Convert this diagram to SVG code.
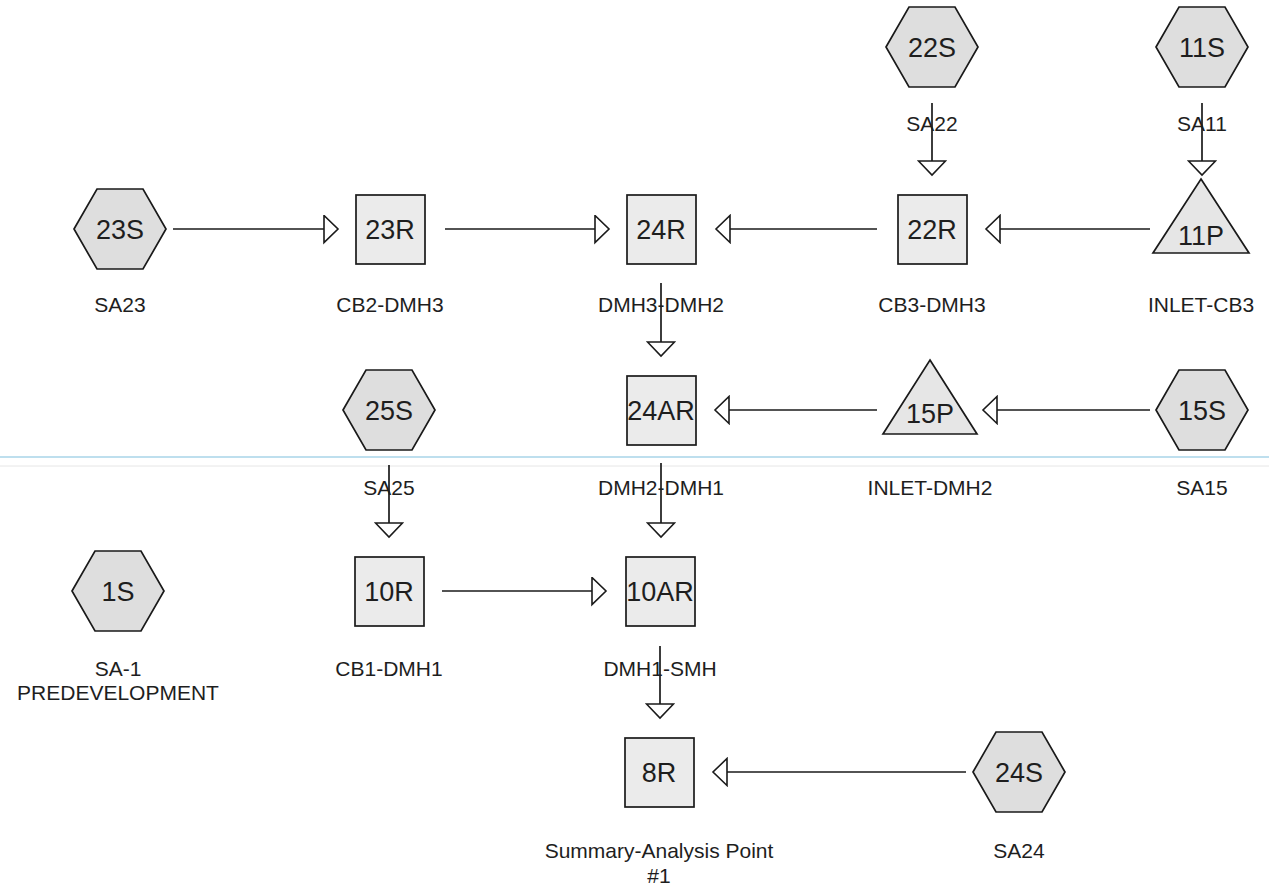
<svg xmlns="http://www.w3.org/2000/svg" width="1269" height="888" viewBox="0 0 1269 888">
<style>
.hex{fill:#dedede;stroke:#1a1a1a;stroke-width:1.7}
.box{fill:#ebebeb;stroke:#1a1a1a;stroke-width:1.7}
.tri{fill:#e6e6e6;stroke:#1a1a1a;stroke-width:1.7}
.nt{font-family:"Liberation Sans",Arial,sans-serif;font-size:27px;fill:#1e1e1e;text-anchor:middle}
.lb{font-family:"Liberation Sans",Arial,sans-serif;font-size:21px;fill:#1e1e1e;text-anchor:middle}
.cn line{stroke:#1a1a1a;stroke-width:1.7;marker-end:url(#ah)}
</style>
<defs>
<marker id="ah" markerUnits="userSpaceOnUse" markerWidth="18" markerHeight="30" refX="1" refY="14.5" orient="auto">
<path d="M1,1 L15,14.5 L1,28 Z" fill="#fff" stroke="#1a1a1a" stroke-width="1.6"/>
</marker>
<path id="hexp" d="M-46,0 L-23,-40 L23,-40 L46,0 L23,40 L-23,40 Z"/>
</defs>
<rect width="1269" height="888" fill="#fff"/>
<line x1="0" y1="457" x2="1269" y2="457" stroke="#a9d4e8" stroke-width="1.5"/>
<line x1="0" y1="466" x2="1269" y2="466" stroke="#e6e6e6" stroke-width="1"/>

<g id="connectors" class="cn">
<line x1="932" y1="103" x2="932" y2="161"/>
<line x1="1202" y1="103" x2="1202" y2="161"/>
<line x1="661" y1="283" x2="661" y2="342"/>
<line x1="389" y1="465" x2="389" y2="523"/>
<line x1="661" y1="463" x2="661" y2="523"/>
<line x1="660" y1="646" x2="660" y2="704"/>
<line x1="173" y1="229" x2="324" y2="229"/>
<line x1="445" y1="229" x2="595" y2="229"/>
<line x1="877" y1="229" x2="730" y2="229"/>
<line x1="1150" y1="229" x2="1000" y2="229"/>
<line x1="877" y1="410" x2="729" y2="410"/>
<line x1="1150" y1="410" x2="997" y2="410"/>
<line x1="442" y1="591" x2="592" y2="591"/>
<line x1="966" y1="772" x2="727" y2="772"/>
</g>

<g id="n22S"><use href="#hexp" class="hex" x="932" y="47"/><text class="nt" x="932" y="57">22S</text><text class="lb" x="932" y="131">SA22</text></g>
<g id="n11S"><use href="#hexp" class="hex" x="1202" y="47"/><text class="nt" x="1202" y="57">11S</text><text class="lb" x="1202" y="131">SA11</text></g>
<g id="n23S"><use href="#hexp" class="hex" x="120" y="229"/><text class="nt" x="120" y="239">23S</text><text class="lb" x="120" y="312">SA23</text></g>
<g id="n23R"><rect class="box" x="356" y="195" width="69" height="69"/><text class="nt" x="390" y="239">23R</text><text class="lb" x="390" y="312">CB2-DMH3</text></g>
<g id="n24R"><rect class="box" x="627" y="195" width="69" height="69"/><text class="nt" x="661" y="239">24R</text><text class="lb" x="661" y="312">DMH3-DMH2</text></g>
<g id="n22R"><rect class="box" x="898" y="195" width="69" height="69"/><text class="nt" x="932" y="239">22R</text><text class="lb" x="932" y="312">CB3-DMH3</text></g>
<g id="n11P"><path class="tri" d="M1201,179 L1249,253 L1153,253 Z"/><text class="nt" x="1201" y="245">11P</text><text class="lb" x="1201" y="312">INLET-CB3</text></g>
<g id="n25S"><use href="#hexp" class="hex" x="389" y="410"/><text class="nt" x="389" y="420">25S</text><text class="lb" x="389" y="495">SA25</text></g>
<g id="n24AR"><rect class="box" x="627" y="376" width="69" height="69"/><text class="nt" x="661" y="420">24AR</text><text class="lb" x="661" y="495">DMH2-DMH1</text></g>
<g id="n15P"><path class="tri" d="M930,360 L977,434 L883,434 Z"/><text class="nt" x="930" y="423">15P</text><text class="lb" x="930" y="495">INLET-DMH2</text></g>
<g id="n15S"><use href="#hexp" class="hex" x="1202" y="410"/><text class="nt" x="1202" y="420">15S</text><text class="lb" x="1202" y="495">SA15</text></g>
<g id="n1S"><use href="#hexp" class="hex" x="118" y="591"/><text class="nt" x="118" y="601">1S</text><text class="lb" x="118" y="676">SA-1</text><text class="lb" x="118" y="700">PREDEVELOPMENT</text></g>
<g id="n10R"><rect class="box" x="355" y="557" width="69" height="69"/><text class="nt" x="389" y="601">10R</text><text class="lb" x="389" y="676">CB1-DMH1</text></g>
<g id="n10AR"><rect class="box" x="626" y="557" width="69" height="69"/><text class="nt" x="660" y="601">10AR</text><text class="lb" x="660" y="676">DMH1-SMH</text></g>
<g id="n8R"><rect class="box" x="625" y="738" width="69" height="69"/><text class="nt" x="659" y="782">8R</text><text class="lb" x="659" y="858">Summary-Analysis Point</text><text class="lb" x="659" y="883">#1</text></g>
<g id="n24S"><use href="#hexp" class="hex" x="1019" y="772"/><text class="nt" x="1019" y="782">24S</text><text class="lb" x="1019" y="858">SA24</text></g>
</svg>
